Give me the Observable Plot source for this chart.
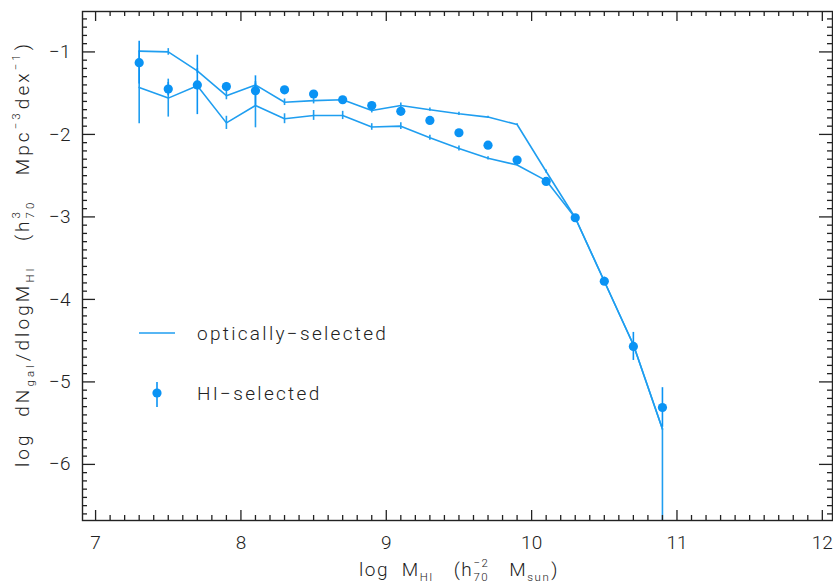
<!DOCTYPE html>
<html><head><meta charset="utf-8">
<script src="https://cdn.jsdelivr.net/npm/d3@7"></script>
<script src="https://cdn.jsdelivr.net/npm/@observablehq/plot@0.6"></script>
<style>
body{margin:0;background:#fff;}
#wrap{position:relative;width:833px;height:583px;}
svg text{font-family:Roboto,"DejaVu Sans",sans-serif;font-weight:300;}
</style></head><body><div id="wrap"></div>
<script>
// ---- data ----
const logM = [7.3,7.5,7.7,7.9,8.1,8.3,8.5,8.7,8.9,9.1,9.3,9.5,9.7,9.9,10.1,10.3,10.5,10.7,10.9];
const hiPhi = [-1.13,-1.45,-1.40,-1.42,-1.47,-1.46,-1.51,-1.58,-1.65,-1.72,-1.83,-1.98,-2.13,-2.31,-2.57,-3.01,-3.78,-4.57,-5.31];
const hiErr = [0.26,0.08,0.36,0.05,0.18,0.04,0.04,0.03,0.03,0.03,0.02,0.02,0.02,0.02,0.02,0.03,0.05,0.17,0.24];
const optUpper = [-0.99,-1.00,-1.23,-1.53,-1.40,-1.61,-1.59,-1.58,-1.71,-1.65,-1.70,-1.75,-1.79,-1.88,-2.45,-3.01,-3.78,-4.55,-5.57];
const optUpperErr = [0.0,0.04,0.03,0.05,0.04,0.04,0.04,0.03,0.03,0.03,0.02,0.02,0.01,0.01,0.02,0,0,0,0];
const optLower = [-1.43,-1.56,-1.41,-1.86,-1.65,-1.81,-1.77,-1.77,-1.91,-1.90,-2.04,-2.17,-2.29,-2.37,-2.56,-3.01,-3.78,-4.55,-5.57];
const optLowerErrLo = [0.44,0.23,0.05,0.08,0.27,0.06,0.06,0.05,0.04,0.04,0.03,0.03,0.02,0.01,0.01,0,0,0,3.0];
const optLowerErrHi = [0.44,0.23,0.05,0.08,0.27,0.06,0.06,0.05,0.04,0.04,0.03,0.03,0.02,0.01,0.01,0,0,0,0];
const xTicks = [7,8,9,10,11,12];
const yTicks = [-6,-5,-4,-3,-2,-1];
const xDomain = [6.91, 12.07];
const yDomain = [-6.68, -0.51];

const lineColor = "#1f9ef0";
const dotColor = "#0a93f4";
const ink = "#222";

const W = 833, H = 583, mL = 82, mR = 1, mT = 11, mB = 63;
const pxX = (W - mL - mR) / (xDomain[1] - xDomain[0]);
const pxY = (H - mT - mB) / (yDomain[1] - yDomain[0]);

const xMinor = d3.range(70, 121).map(i => i / 10).filter(v => !xTicks.includes(v));
const yMinor = d3.range(-66, -5).map(i => i / 10).filter(v => !yTicks.includes(v));

const hi = logM.map((m, i) => ({m, y: hiPhi[i], lo: hiPhi[i] - hiErr[i], hi: hiPhi[i] + hiErr[i]}));
const up = logM.map((m, i) => ({m, y: optUpper[i], lo: optUpper[i] - optUpperErr[i], hi: optUpper[i] + optUpperErr[i]}));
const low = logM.map((m, i) => ({m, y: optLower[i], lo: optLower[i] - optLowerErrLo[i], hi: optLower[i] + optLowerErrHi[i]}));

const xMaj = 10 / pxY, xMin = 5 / pxY, yMaj = 13 / pxX, yMin = 5 / pxX;
const tickMarks = (st) => [
  Plot.ruleX(xTicks, {x: d => d, y1: yDomain[0], y2: yDomain[0] + xMaj, stroke: ink, strokeWidth: st}),
  Plot.ruleX(xMinor, {x: d => d, y1: yDomain[0], y2: yDomain[0] + xMin, stroke: ink, strokeWidth: st}),
  Plot.ruleX(xTicks, {x: d => d, y1: yDomain[1], y2: yDomain[1] - xMaj, stroke: ink, strokeWidth: st}),
  Plot.ruleX(xMinor, {x: d => d, y1: yDomain[1], y2: yDomain[1] - xMin, stroke: ink, strokeWidth: st}),
  Plot.ruleY(yTicks, {y: d => d, x1: xDomain[0], x2: xDomain[0] + yMaj, stroke: ink, strokeWidth: st}),
  Plot.ruleY(yMinor, {y: d => d, x1: xDomain[0], x2: xDomain[0] + yMin, stroke: ink, strokeWidth: st}),
  Plot.ruleY(yTicks, {y: d => d, x1: xDomain[1], x2: xDomain[1] - yMaj, stroke: ink, strokeWidth: st}),
  Plot.ruleY(yMinor, {y: d => d, x1: xDomain[1], x2: xDomain[1] - yMin, stroke: ink, strokeWidth: st})
];

const plot = Plot.plot({
  width: W, height: H,
  marginLeft: mL, marginRight: mR, marginTop: mT, marginBottom: mB,
  style: {fontSize: "19px", color: ink, background: "#fff"},
  x: {domain: xDomain, ticks: xTicks, label: null},
  y: {domain: yDomain, ticks: yTicks, label: null},
  marks: [
    Plot.axisX({ticks: xTicks, tickSize: 0, tickPadding: 15, tickFormat: d3.format("d"), fontSize: 19}),
    Plot.axisY({ticks: yTicks, tickSize: 0, tickPadding: 12, tickFormat: d => "\u2212" + Math.abs(d), fontSize: 19}),
    Plot.ruleX(up, {x: "m", y1: "lo", y2: "hi", stroke: lineColor, strokeWidth: 1.6, clip: true}),
    Plot.ruleX(low, {x: "m", y1: "lo", y2: "hi", stroke: lineColor, strokeWidth: 1.6, clip: true}),
    Plot.line(up, {x: "m", y: "y", stroke: lineColor, strokeWidth: 1.6}),
    Plot.line(low, {x: "m", y: "y", stroke: lineColor, strokeWidth: 1.6}),
    Plot.ruleX(hi, {x: "m", y1: "lo", y2: "hi", stroke: dotColor, strokeWidth: 1.6, clip: true}),
    Plot.dot(hi, {x: "m", y: "y", r: 4.6, fill: dotColor, stroke: "none"}),
    ...tickMarks(1.3),
    Plot.frame({stroke: ink, strokeWidth: 1.4})
  ]
});
document.getElementById("wrap").appendChild(plot);

const svg = d3.select(plot);

function rich(runs, cx, cy, rotate, size, ls) {
  const g = svg.append("g").attr("transform", `translate(${cx},${cy}) rotate(${rotate})`)
    .attr("fill", ink).attr("text-anchor", "start");
  let x = 0;
  const mk = (xx, yy, fs, txt) => g.append("text").attr("x", xx).attr("y", yy).attr("font-size", fs)
    .attr("text-anchor", "start").style("white-space", "pre").style("letter-spacing", ls + "px").text(txt);
  for (const r of runs) {
    if (r.t !== undefined) {
      const t = mk(x, 0, size, r.t);
      x += t.node().getComputedTextLength();
    } else {
      let w = 0;
      const s = size * 0.6;
      if (r.sup !== undefined) {
        const t = mk(x, -size * 0.45, s, r.sup);
        w = Math.max(w, t.node().getComputedTextLength());
      }
      if (r.sub !== undefined) {
        const t = mk(x, size * 0.28, s, r.sub);
        w = Math.max(w, t.node().getComputedTextLength());
      }
      x += w + 1;
    }
  }
  g.selectAll("text").each(function () {
    this.setAttribute("x", +this.getAttribute("x") - x / 2);
  });
}

rich([{t: "log  M"}, {sub: "HI"}, {t: "   (h"}, {sup: "\u22122", sub: "70"}, {t: "   M"}, {sub: "sun"}, {t: ")"}],
  459, 576, 0, 19, 1.6);
rich([{t: "log  dN"}, {sub: "gal"}, {t: "/dlogM"}, {sub: "HI"}, {t: "   (h"}, {sup: "3", sub: "70"},
  {t: "   Mpc"}, {sup: "\u22123"}, {t: "dex"}, {sup: "\u22121"}, {t: ")"}], 29, 254, -90, 19, 3.1);

// legend
const lg = svg.append("g").attr("text-anchor", "start");
lg.append("line").attr("x1", 139).attr("x2", 175).attr("y1", 333).attr("y2", 333)
  .attr("stroke", lineColor).attr("stroke-width", 1.6);
lg.append("text").attr("x", 197).attr("y", 339.5).attr("font-size", 19).attr("fill", ink)
  .style("letter-spacing", "2.3px").text("optically\u2212selected");
lg.append("line").attr("x1", 157).attr("x2", 157).attr("y1", 382).attr("y2", 407)
  .attr("stroke", dotColor).attr("stroke-width", 1.6);
lg.append("circle").attr("cx", 157).attr("cy", 393).attr("r", 4.6).attr("fill", dotColor);
lg.append("text").attr("x", 197).attr("y", 399.5).attr("font-size", 19).attr("fill", ink)
  .style("letter-spacing", "2.3px").text("HI\u2212selected");
</script></body></html>
